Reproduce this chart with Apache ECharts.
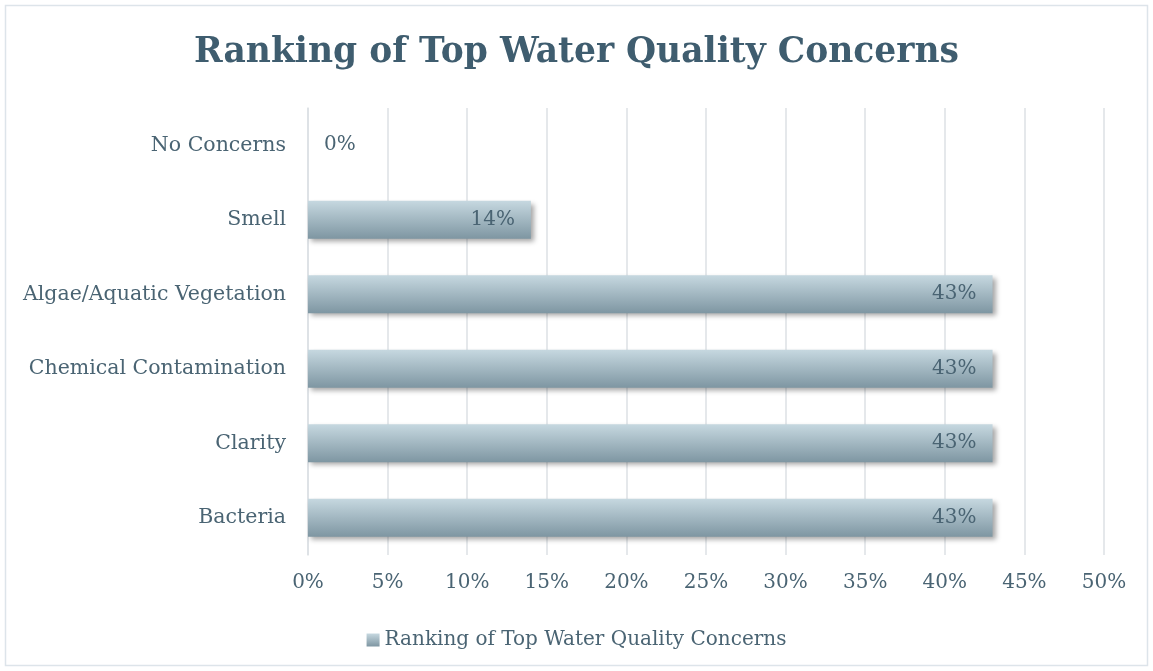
<!DOCTYPE html>
<html><head><meta charset="utf-8">
<script src="https://cdn.jsdelivr.net/npm/echarts@6/dist/echarts.min.js"></script>
<style>html,body{margin:0;padding:0;background:#fff}#c{width:1153px;height:671px}</style>
</head><body><div id="c"></div>
<script>
const categories = ['Bacteria','Clarity','Chemical Contamination','Algae/Aquatic Vegetation','Smell','No Concerns'];
const values = [43,43,43,43,14,0];
const xTicks = [0,5,10,15,20,25,30,35,40,45,50];
const seriesName = 'Ranking of Top Water Quality Concerns';
const font = '"DejaVu Serif", serif';
const grad = new echarts.graphic.LinearGradient(0,0,0,1,[{offset:0,color:'#c6d8e0'},{offset:1,color:'#7e96a2'}]);
const chart = echarts.init(document.getElementById('c'));
chart.setOption({
  animation:false,
  graphic:[{type:'rect',shape:{x:5.5,y:5.5,width:1142,height:660},style:{fill:'none',stroke:'#dde4ea',lineWidth:1.5}}],
  title:{text:'Ranking of Top Water Quality Concerns',left:'center',top:31,
    textStyle:{fontFamily:font,fontWeight:'bold',fontSize:34.5,color:'#3f5d6f'}},
  legend:{bottom:16,left:'center',itemWidth:13,itemHeight:13,icon:'rect',
    textStyle:{fontFamily:font,fontSize:20,color:'#4a6473'},data:[seriesName]},
  grid:{left:308,right:49,top:108,bottom:116,containLabel:false},
  xAxis:{type:'value',min:xTicks[0],max:xTicks[xTicks.length-1],interval:5,
    axisLabel:{formatter:v=>v+'%',fontFamily:font,fontSize:20,color:'#4a6473',margin:18},
    splitLine:{show:true,lineStyle:{color:'#dde1e4',width:1.5}},
    axisLine:{show:false},axisTick:{show:false}},
  yAxis:{type:'category',data:categories,
    axisLabel:{fontFamily:font,fontSize:20.5,color:'#4a6473',margin:22},
    axisLine:{show:true,lineStyle:{color:'#dde1e4',width:1.5}},axisTick:{show:false}},
  series:[{name:seriesName,type:'bar',
    data:values.map(v=>v===0?{value:v,label:{position:'right',distance:16}}:v),
    barWidth:'51%',
    itemStyle:{color:grad,shadowColor:'rgba(0,0,0,0.35)',shadowBlur:5,shadowOffsetX:3,shadowOffsetY:3},
    label:{show:true,formatter:p=>p.value+'%',fontFamily:font,fontSize:20,color:'#4a6473',
      position:'insideRight',distance:16}}]
});
</script></body></html>
